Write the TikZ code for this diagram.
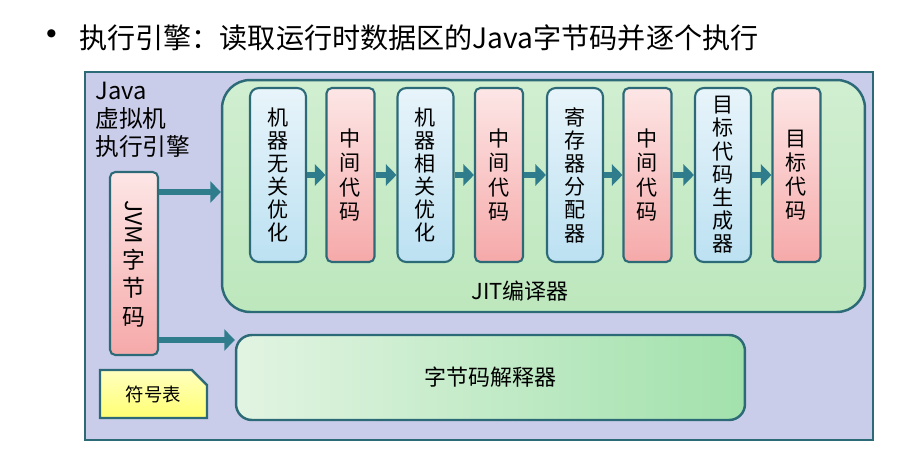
\documentclass[tikz,border=0pt]{standalone}
\usepackage{fontspec}
\setmainfont{Noto Sans CJK SC}
\usepackage{xcolor}
\usetikzlibrary{shapes.misc, arrows.meta, positioning}

\definecolor{edgeteal}{HTML}{2C6A78}
\definecolor{arrowteal}{HTML}{2F7C8C}
\definecolor{framefill}{HTML}{CACDE9}
\definecolor{jitfill}{HTML}{BDE7BD}
\definecolor{stagetop}{HTML}{E8F4FA}
\definecolor{stagebot}{HTML}{BCE1F2}
\definecolor{codetop}{HTML}{FDE6E6}
\definecolor{codebot}{HTML}{F6A9A9}
\definecolor{interpleft}{HTML}{E2F4E2}
\definecolor{interpright}{HTML}{A2E1AC}

\tikzset{
  stagebox/.style={draw=edgeteal, line width=1.2pt, rounded corners=5pt,
    minimum width=1.12cm, minimum height=3.48cm, align=center,
    top color=stagetop, bottom color=stagebot,
    font=\fontsize{12}{13.2}\selectfont, inner sep=1pt},
  codebox/.style={draw=edgeteal, line width=1.2pt, rounded corners=3pt,
    minimum width=0.96cm, minimum height=3.48cm, align=center,
    top color=codetop, bottom color=codebot,
    font=\fontsize{12}{13.8}\selectfont, inner sep=1pt},
  flow/.style={draw=arrowteal, line width=3.2pt,
    -{Triangle[length=6pt, width=12pt]}}
}

\begin{document}
\begin{tikzpicture}[x=0.02cm, y=-0.02cm]
    % Canvas
    \fill[white] (0,0) rectangle (912,453);
    \useasboundingbox (0,0) rectangle (912,453);

    % Title line
    \node[anchor=west, font=\fontsize{16}{18}\selectfont] (title) at (26,38)
        {{\fontsize{22}{22}\selectfont\textbullet}\hspace{0.3em}执行引擎：读取运行时数据区的Java字节码并逐个执行};

    % Outer frame
    \node[draw=edgeteal, line width=1.4pt, fill=framefill,
          minimum width=15.76cm, minimum height=7.36cm] (engine) at (479,256) {};
    \node[anchor=north west, align=left, inner sep=0pt,
          font=\fontsize{13.5}{16}\selectfont] (enginelabel) at (95,82)
        {Java\\虚拟机\\执行引擎};

    % JIT compiler
    \node[draw=edgeteal, line width=1.4pt, rounded corners=16pt,
          top color=jitfill!70!white, bottom color=jitfill,
          minimum width=12.86cm, minimum height=4.64cm] (jit) at (543.5,196) {};
    \node[font=\fontsize{12.5}{14}\selectfont] (jitlabel) at (520,291) {JIT编译器};

    % Compiler stages
    \node[stagebox] (s1) at (278,175)   {机\\器\\无\\关\\优\\化};
    \node[codebox]  (c1) at (350.5,175) {中\\间\\代\\码};
    \node[stagebox] (s2) at (425.5,175) {机\\器\\相\\关\\优\\化};
    \node[codebox]  (c2) at (499,175)   {中\\间\\代\\码};
    \node[stagebox] (s3) at (575,175)   {寄\\存\\器\\分\\配\\器};
    \node[codebox]  (c3) at (647.5,175) {中\\间\\代\\码};
    \node[stagebox] (s4) at (723,175)   {目\\标\\代\\码\\生\\成\\器};
    \node[codebox]  (c4) at (796.5,175) {目\\标\\代\\码};

    \draw[flow] (s1) -- (c1);
    \draw[flow] (c1) -- (s2);
    \draw[flow] (s2) -- (c2);
    \draw[flow] (c2) -- (s3);
    \draw[flow] (s3) -- (c3);
    \draw[flow] (c3) -- (s4);
    \draw[flow] (s4) -- (c4);

    % Bytecode input
    \node[codebox, minimum height=3.66cm, font=\fontsize{13}{16}\selectfont]
        (jvm) at (134,263.5) {\rotatebox{-90}{JVM}\\[2pt]字\\节\\码};

    % Interpreter
    \node[draw=edgeteal, line width=1.4pt, rounded corners=9pt,
          left color=interpleft, right color=interpright,
          minimum width=10.18cm, minimum height=1.7cm,
          font=\fontsize{12.5}{14}\selectfont] (interp) at (490.5,377.5) {字节码解释器};

    % Symbol table
    \node[draw=edgeteal, line width=1.4pt, chamfered rectangle,
          chamfered rectangle corners=north east, chamfered rectangle xsep=5pt,
          top color=yellow!25!white, bottom color=yellow!55!white,
          minimum width=2.14cm, minimum height=0.96cm,
          font=\fontsize{10.5}{12}\selectfont] (symtab) at (153.5,394) {符号表};

    % Links from bytecode
    \draw[flow] (jvm.east |- 0,192) -- (jit.west |- 0,192);
    \draw[flow] (jvm.east |- 0,340) -- (interp.west |- 0,340);
\end{tikzpicture}
\end{document}
